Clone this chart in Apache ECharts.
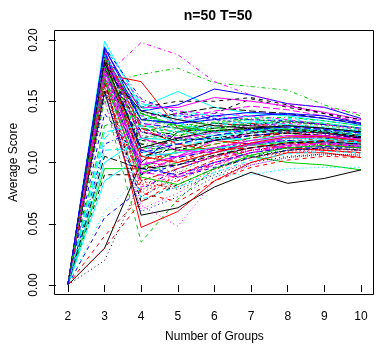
<!DOCTYPE html>
<html>
<head>
<meta charset="utf-8">
<script src="https://cdn.jsdelivr.net/npm/echarts@6/dist/echarts.min.js"></script>
<style>
html,body{margin:0;padding:0;background:#fff;}
#c{width:388px;height:349px;}
</style>
</head>
<body>
<div id="c"></div>
<script>
var titleText = "n=50 T=50";
var xLabel = "Number of Groups";
var yLabel = "Average Score";
var groups = [2, 3, 4, 5, 6, 7, 8, 9, 10];
var yTicks = [0.00, 0.05, 0.10, 0.15, 0.20];

// one row per line: average score at groups 2..10
var s00 = [0, 0.030, 0.100, 0.125, 0.132, 0.130, 0.128, 0.124, 0.120];
var s01 = [0, 0.185, 0.120, 0.112, 0.118, 0.122, 0.125, 0.120, 0.116];
var s02 = [0, 0.170, 0.105, 0.098, 0.110, 0.118, 0.120, 0.122, 0.118];
var s03 = [0, 0.178, 0.140, 0.138, 0.135, 0.132, 0.130, 0.128, 0.125];
var s04 = [0, 0.195, 0.148, 0.142, 0.138, 0.134, 0.131, 0.128, 0.126];
var s05 = [0, 0.188, 0.090, 0.105, 0.118, 0.124, 0.128, 0.126, 0.122];
var s06 = [0, 0.090, 0.090, 0.120, 0.140, 0.152, 0.145, 0.140, 0.132];
var s07 = [0, 0.160, 0.075, 0.090, 0.102, 0.110, 0.115, 0.112, 0.110];
var s08 = [0, 0.165, 0.172, 0.177, 0.165, 0.162, 0.159, 0.147, 0.138];
var s09 = [0, 0.182, 0.132, 0.128, 0.125, 0.127, 0.126, 0.124, 0.120];
var s10 = [0, 0.199, 0.145, 0.158, 0.145, 0.140, 0.138, 0.134, 0.130];
var s11 = [0, 0.175, 0.110, 0.118, 0.125, 0.130, 0.132, 0.128, 0.124];
var s12 = [0, 0.020, 0.085, 0.095, 0.105, 0.110, 0.112, 0.115, 0.113];
var s13 = [0, 0.168, 0.095, 0.102, 0.112, 0.118, 0.120, 0.118, 0.115];
var s14 = [0, 0.190, 0.128, 0.122, 0.128, 0.126, 0.124, 0.120, 0.117];
var s15 = [0, 0.193, 0.142, 0.147, 0.160, 0.155, 0.148, 0.145, 0.136];
var s16 = [0, 0.158, 0.138, 0.130, 0.128, 0.131, 0.134, 0.132, 0.128];
var s17 = [0, 0.150, 0.062, 0.075, 0.092, 0.100, 0.108, 0.110, 0.108];
var s18 = [0, 0.172, 0.118, 0.115, 0.122, 0.125, 0.127, 0.124, 0.121];
var s19 = [0, 0.180, 0.102, 0.108, 0.115, 0.120, 0.124, 0.122, 0.119];
var s20 = [0, 0.095, 0.095, 0.110, 0.112, 0.105, 0.100, 0.098, 0.094];
var s21 = [0, 0.055, 0.078, 0.095, 0.105, 0.112, 0.115, 0.117, 0.114];
var s22 = [0, 0.162, 0.088, 0.080, 0.090, 0.090, 0.095, 0.096, 0.096];
var s23 = [0, 0.170, 0.198, 0.188, 0.166, 0.155, 0.148, 0.145, 0.140];
var s24 = [0, 0.185, 0.135, 0.140, 0.145, 0.142, 0.140, 0.136, 0.132];
var s25 = [0, 0.172, 0.166, 0.128, 0.118, 0.115, 0.112, 0.110, 0.108];
var s26 = [0, 0.152, 0.035, 0.070, 0.095, 0.105, 0.110, 0.112, 0.110];
var s27 = [0, 0.190, 0.125, 0.118, 0.120, 0.122, 0.124, 0.123, 0.120];
var s28 = [0, 0.176, 0.108, 0.112, 0.120, 0.126, 0.130, 0.127, 0.124];
var s29 = [0, 0.185, 0.130, 0.135, 0.142, 0.146, 0.143, 0.138, 0.134];
var s30 = [0, 0.158, 0.057, 0.063, 0.080, 0.092, 0.083, 0.087, 0.094];
var s31 = [0, 0.030, 0.068, 0.085, 0.100, 0.108, 0.112, 0.110, 0.108];
var s32 = [0, 0.180, 0.122, 0.120, 0.125, 0.128, 0.126, 0.125, 0.122];
var s33 = [0, 0.165, 0.098, 0.105, 0.112, 0.116, 0.118, 0.117, 0.115];
var s34 = [0, 0.110, 0.112, 0.115, 0.118, 0.120, 0.122, 0.121, 0.119];
var s35 = [0, 0.178, 0.145, 0.145, 0.153, 0.150, 0.146, 0.141, 0.135];
var s36 = [0, 0.188, 0.145, 0.150, 0.150, 0.153, 0.147, 0.140, 0.135];
var s37 = [0, 0.162, 0.082, 0.092, 0.098, 0.104, 0.108, 0.110, 0.107];
var s38 = [0, 0.176, 0.115, 0.118, 0.122, 0.126, 0.128, 0.126, 0.123];
var s39 = [0, 0.182, 0.110, 0.104, 0.110, 0.115, 0.118, 0.116, 0.113];
var s40 = [0, 0.085, 0.105, 0.108, 0.112, 0.114, 0.117, 0.118, 0.116];
var s41 = [0, 0.168, 0.100, 0.098, 0.104, 0.110, 0.113, 0.114, 0.112];
var s42 = [0, 0.155, 0.125, 0.132, 0.128, 0.130, 0.130, 0.128, 0.126];
var s43 = [0, 0.187, 0.130, 0.125, 0.130, 0.132, 0.128, 0.125, 0.121];
var s44 = [0, 0.172, 0.092, 0.100, 0.108, 0.114, 0.117, 0.116, 0.114];
var s45 = [0, 0.188, 0.135, 0.132, 0.135, 0.138, 0.140, 0.138, 0.132];
var s46 = [0, 0.180, 0.118, 0.125, 0.130, 0.133, 0.136, 0.134, 0.130];
var s47 = [0, 0.164, 0.065, 0.048, 0.085, 0.098, 0.104, 0.106, 0.105];
var s48 = [0, 0.186, 0.120, 0.125, 0.128, 0.131, 0.133, 0.131, 0.128];
var s49 = [0, 0.168, 0.085, 0.095, 0.105, 0.112, 0.116, 0.115, 0.112];
var s50 = [0, 0.185, 0.140, 0.130, 0.125, 0.128, 0.127, 0.125, 0.122];
var s51 = [0, 0.176, 0.090, 0.098, 0.108, 0.115, 0.120, 0.120, 0.117];
var s52 = [0, 0.060, 0.090, 0.100, 0.108, 0.112, 0.114, 0.115, 0.113];
var s53 = [0, 0.182, 0.138, 0.140, 0.138, 0.135, 0.133, 0.131, 0.128];
var s54 = [0, 0.177, 0.105, 0.112, 0.118, 0.122, 0.124, 0.122, 0.120];
var s55 = [0, 0.170, 0.047, 0.060, 0.085, 0.100, 0.108, 0.108, 0.104];
var s56 = [0, 0.178, 0.112, 0.110, 0.115, 0.120, 0.122, 0.121, 0.118];
var s57 = [0, 0.155, 0.072, 0.088, 0.100, 0.106, 0.110, 0.111, 0.110];
var s58 = [0, 0.189, 0.128, 0.138, 0.140, 0.137, 0.135, 0.132, 0.128];
var s59 = [0, 0.174, 0.125, 0.120, 0.124, 0.128, 0.130, 0.127, 0.124];
var s60 = [0, 0.176, 0.142, 0.135, 0.130, 0.128, 0.126, 0.124, 0.122];
var s61 = [0, 0.040, 0.072, 0.090, 0.102, 0.110, 0.114, 0.115, 0.112];
var s62 = [0, 0.183, 0.098, 0.092, 0.105, 0.115, 0.120, 0.121, 0.119];
var s63 = [0, 0.115, 0.128, 0.120, 0.118, 0.122, 0.125, 0.124, 0.121];
var s64 = [0, 0.120, 0.145, 0.132, 0.125, 0.126, 0.128, 0.126, 0.124];
var s65 = [0, 0.192, 0.120, 0.110, 0.108, 0.115, 0.120, 0.121, 0.118];
var s66 = [0, 0.166, 0.068, 0.082, 0.095, 0.104, 0.110, 0.112, 0.110];
var s67 = [0, 0.180, 0.078, 0.085, 0.098, 0.108, 0.112, 0.113, 0.111];
var s68 = [0, 0.174, 0.130, 0.128, 0.132, 0.135, 0.133, 0.130, 0.127];
var s69 = [0, 0.179, 0.095, 0.090, 0.100, 0.108, 0.112, 0.113, 0.112];
var s70 = [0, 0.100, 0.120, 0.118, 0.120, 0.118, 0.120, 0.119, 0.117];
var s71 = [0, 0.186, 0.150, 0.142, 0.140, 0.138, 0.135, 0.131, 0.127];
var s72 = [0, 0.159, 0.085, 0.078, 0.090, 0.100, 0.105, 0.107, 0.106];
var s73 = [0, 0.184, 0.110, 0.100, 0.112, 0.120, 0.125, 0.124, 0.121];
var s74 = [0, 0.130, 0.140, 0.128, 0.126, 0.128, 0.130, 0.128, 0.125];
var s75 = [0, 0.194, 0.135, 0.132, 0.138, 0.141, 0.139, 0.136, 0.131];
var s76 = [0, 0.171, 0.070, 0.080, 0.092, 0.102, 0.107, 0.109, 0.108];
var s77 = [0, 0.177, 0.102, 0.095, 0.105, 0.114, 0.119, 0.120, 0.117];
var s78 = [0, 0.181, 0.115, 0.110, 0.118, 0.124, 0.127, 0.126, 0.122];
var s79 = [0, 0.190, 0.128, 0.115, 0.110, 0.112, 0.116, 0.118, 0.117];
var s80 = [0, 0.167, 0.088, 0.082, 0.095, 0.106, 0.112, 0.114, 0.112];
var s81 = [0, 0.140, 0.100, 0.088, 0.096, 0.104, 0.110, 0.112, 0.110];
var s82 = [0, 0.188, 0.138, 0.126, 0.124, 0.126, 0.128, 0.127, 0.124];
var s83 = [0, 0.173, 0.080, 0.090, 0.100, 0.110, 0.114, 0.115, 0.113];
var s84 = [0, 0.105, 0.095, 0.098, 0.106, 0.112, 0.116, 0.117, 0.115];
var s85 = [0, 0.183, 0.105, 0.100, 0.108, 0.116, 0.121, 0.121, 0.118];
var s86 = [0, 0.175, 0.128, 0.125, 0.128, 0.132, 0.134, 0.132, 0.128];
var s87 = [0, 0.161, 0.060, 0.072, 0.088, 0.098, 0.104, 0.107, 0.106];
var s88 = [0, 0.187, 0.145, 0.136, 0.132, 0.133, 0.131, 0.129, 0.126];
var s89 = [0, 0.170, 0.092, 0.088, 0.098, 0.108, 0.114, 0.116, 0.114];
var s90 = [0, 0.182, 0.112, 0.120, 0.126, 0.128, 0.130, 0.128, 0.125];
var s91 = [0, 0.163, 0.075, 0.068, 0.085, 0.096, 0.102, 0.105, 0.104];
var s92 = [0, 0.179, 0.118, 0.122, 0.126, 0.128, 0.127, 0.125, 0.122];
var s93 = [0, 0.194, 0.152, 0.140, 0.136, 0.135, 0.134, 0.131, 0.128];
var s94 = [0, 0.125, 0.130, 0.125, 0.122, 0.124, 0.126, 0.125, 0.122];
var s95 = [0, 0.176, 0.098, 0.105, 0.112, 0.118, 0.122, 0.122, 0.119];
var s96 = [0, 0.184, 0.125, 0.118, 0.120, 0.124, 0.126, 0.125, 0.121];
var s97 = [0, 0.169, 0.082, 0.080, 0.094, 0.104, 0.109, 0.111, 0.110];
var s98 = [0, 0.178, 0.135, 0.130, 0.133, 0.136, 0.137, 0.134, 0.130];
var s99 = [0, 0.191, 0.108, 0.115, 0.122, 0.127, 0.129, 0.127, 0.124];

var allSeries = [s00,s01,s02,s03,s04,s05,s06,s07,s08,s09,s10,s11,s12,s13,s14,s15,s16,s17,s18,s19,
  s20,s21,s22,s23,s24,s25,s26,s27,s28,s29,s30,s31,s32,s33,s34,s35,s36,s37,s38,s39,
  s40,s41,s42,s43,s44,s45,s46,s47,s48,s49,s50,s51,s52,s53,s54,s55,s56,s57,s58,s59,
  s60,s61,s62,s63,s64,s65,s66,s67,s68,s69,s70,s71,s72,s73,s74,s75,s76,s77,s78,s79,
  s80,s81,s82,s83,s84,s85,s86,s87,s88,s89,s90,s91,s92,s93,s94,s95,s96,s97,s98,s99];

var palette = ['#000000', '#FF0000', '#00CD00', '#0000FF', '#00FFFF', '#FF00FF'];
var dashes = ['solid', [4, 4], [1, 3], [1, 3, 4, 3], [7, 3]];

var FONT = '"Liberation Sans", Arial, Helvetica, sans-serif';

var series = allSeries.map(function (vals, i) {
  return {
    type: 'line',
    data: vals.map(function (v, j) { return [groups[j], v]; }),
    symbol: 'none',
    silent: true,
    clip: false,
    lineStyle: { color: palette[i % 6], width: 1, type: dashes[i % 5] }
  };
});

var chart = echarts.init(document.getElementById('c'), null, { renderer: 'canvas' });
chart.setOption({
  animation: false,
  backgroundColor: '#ffffff',
  title: {
    text: titleText,
    left: 213,
    textAlign: 'center',
    top: 4,
    textStyle: { fontFamily: FONT, fontWeight: 'bold', fontSize: 14, color: '#000' }
  },
  grid: { left: 66, right: 27, top: 40, bottom: 64, containLabel: false },
  xAxis: {
    type: 'value',
    min: 2, max: 10, interval: 1,
    offset: 9,
    name: xLabel,
    nameLocation: 'middle',
    nameGap: 37,
    nameTextStyle: { fontFamily: FONT, fontSize: 12, color: '#000' },
    axisLine: { show: false },
    axisTick: { show: true, length: 7, lineStyle: { color: '#000', width: 1 } },
    axisLabel: { fontFamily: FONT, fontSize: 12, color: '#000', margin: 17,
      formatter: function (v) { return String(v); } },
    splitLine: { show: false }
  },
  yAxis: {
    type: 'value',
    min: yTicks[0], max: yTicks[yTicks.length - 1], interval: 0.05,
    offset: 12,
    name: yLabel,
    nameLocation: 'middle',
    nameGap: 33,
    nameRotate: 90,
    nameTextStyle: { fontFamily: FONT, fontSize: 12, color: '#000' },
    axisLine: { show: false },
    axisTick: { show: true, length: 7, lineStyle: { color: '#000', width: 1 } },
    axisLabel: { fontFamily: FONT, fontSize: 12, color: '#000', margin: 16, rotate: 90,
      formatter: function (v) { return v.toFixed(2); } },
    splitLine: { show: false }
  },
  graphic: [{
    type: 'rect',
    shape: { x: 54.5, y: 30.5, width: 319, height: 264 },
    style: { fill: 'none', stroke: '#000', lineWidth: 1 },
    silent: true,
    z: 100
  }],
  series: series
});
</script>
</body>
</html>
